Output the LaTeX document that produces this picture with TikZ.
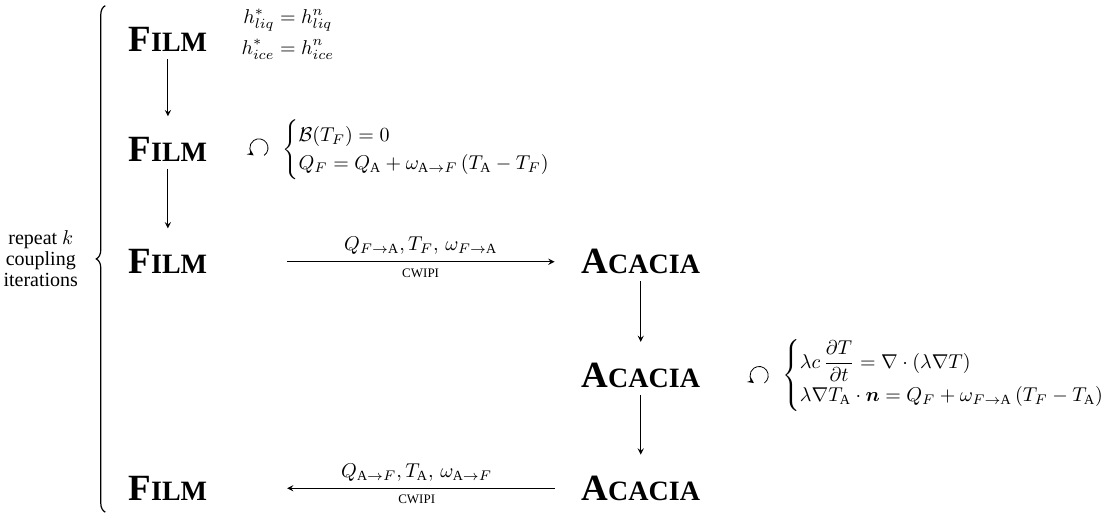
\documentclass[tikz,border=0pt]{standalone}
\usepackage{amsmath, amssymb, bm}
\usepackage{fontspec}
\setmainfont{Liberation Serif}
\usepackage{tikz}
\usetikzlibrary{calc, positioning, decorations.pathreplacing}

% bold name with hand-made small capitals
\newcommand{\code}[2]{\textbf{#1{\fontsize{14}{15}\selectfont #2}}}

\begin{document}
\begin{tikzpicture}[>=stealth]
  \useasboundingbox (0,0) rectangle (19.453,-9.033);
  \tikzset{solver/.style={font=\fontsize{18.5}{20}\selectfont},
    lbl/.style={font=\fontsize{6.5}{7}\selectfont},
    step arrow/.style={->, shorten >=0.25cm}}
  % film side
  \node[solver] (F1) at (2.95,-0.7) {\code{F}{ILM}};
  \node[solver] (F2) at (2.95,-2.63) {\code{F}{ILM}};
  \node[solver] (F3) at (2.95,-4.6) {\code{F}{ILM}};
  \node[solver] (F4) at (2.95,-8.58) {\code{F}{ILM}};
  % acacia side
  \node[solver] (A1) at (11.26,-4.6) {\code{A}{CACIA}};
  \node[solver] (A2) at (11.26,-6.6) {\code{A}{CACIA}};
  \node[solver] (A3) at (11.26,-8.58) {\code{A}{CACIA}};
  % initial thicknesses
  \node[anchor=west] (init) at (4.12,-0.6) {$\begin{aligned}
      h^*_{liq} &= h^n_{liq}\\[-1pt]
      h^*_{ice} &= h^n_{ice}
    \end{aligned}$};
  % film solve
  \coordinate (loopF) at (4.55,-2.6);
  \draw[-{stealth}] ($(loopF)+(-55:0.16)$) arc (-55:235:0.16);
  \node[anchor=west] (eqF) at (4.84,-2.63) {$\begin{cases}
      \mathcal{B}(T_F) = 0\\
      Q_F = Q_{\mathrm{A}} + \omega_{\mathrm{A}\to F}\,(T_{\mathrm{A}} - T_F)
    \end{cases}$};
  % acacia solve
  \coordinate (loopA) at (13.34,-6.6);
  \draw[-{stealth}] ($(loopA)+(-55:0.16)$) arc (-55:235:0.16);
  \node[anchor=west] (eqA) at (13.62,-6.6) {$\begin{cases}
      \lambda c\,\dfrac{\partial T}{\partial t} = \nabla\cdot(\lambda\nabla T)\\
      \lambda\nabla T_{\mathrm{A}}\cdot\bm{n} = Q_F + \omega_{F\to\mathrm{A}}\,(T_F - T_{\mathrm{A}})
    \end{cases}$};
  % sequence
  \draw[step arrow] (F1) -- (F2);
  \draw[step arrow] (F2) -- (F3);
  \draw[step arrow] (A1) -- (A2);
  \draw[step arrow] (A2) -- (A3);
  \draw[->, shorten <=1.28cm, shorten >=0.35cm] (F3) -- (A1)
    node[pos=0.573, above] {$Q_{F\to\mathrm{A}}, T_F,\, \omega_{F\to\mathrm{A}}$}
    node[pos=0.573, below, lbl] {CWIPI};
  \draw[->, shorten <=0.35cm, shorten >=1.28cm] (A3) -- (F4)
    node[pos=0.438, above] {$Q_{\mathrm{A}\to F}, T_{\mathrm{A}},\, \omega_{\mathrm{A}\to F}$}
    node[pos=0.438, below, lbl] {CWIPI};
  % coupling loop
  \coordinate (top) at (1.85,-0.1);
  \coordinate (bot) at (1.85,-9.0);
  \draw[decorate, decoration={brace, amplitude=4.5pt}, semithick] (bot) -- (top)
    node[midway, left=10pt, align=center, font=\fontsize{10}{10.5}\selectfont] (rep)
    {repeat $k$\\coupling\\iterations};
\end{tikzpicture}
\end{document}
